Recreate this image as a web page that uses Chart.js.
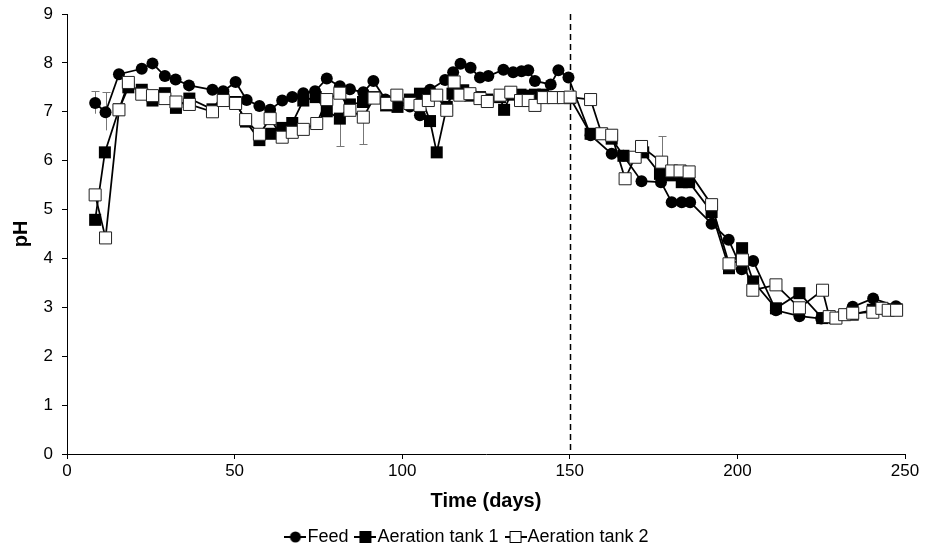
<!DOCTYPE html>
<html>
<head>
<meta charset="utf-8">
<script src="https://cdn.jsdelivr.net/npm/chart.js@4/dist/chart.umd.min.js"></script>
<style>
  body { margin: 0; background: #fff; }
</style>
</head>
<body>
<canvas id="ph-chart" width="925" height="552"></canvas>
<script>
// pH of the feed and of both aeration tanks over the run
const feedDays = [8.4, 11.5, 15.5, 22.3, 25.5, 29.2, 32.4, 36.4, 43.4, 46.6, 50.3, 53.6, 57.4, 60.6, 64.2, 67.2, 70.5, 74, 77.5, 81.4, 84.4, 88.4, 91.4, 95, 98.5, 102.3, 105.3, 108.3, 112.8, 115.2, 117.4, 120.4, 123.2, 125.7, 130.2, 133.1, 135.6, 137.6, 139.6, 144.3, 146.6, 149.6, 156.2, 162.5, 166, 171.4, 177.2, 180.4, 183.4, 185.9, 192.3, 197.4, 201.3, 204.7, 211.5, 218.5, 225, 234.4, 240.5, 247.3];
const feedPH = [7.18, 6.99, 7.77, 7.88, 7.99, 7.73, 7.66, 7.54, 7.45, 7.42, 7.61, 7.24, 7.12, 7.04, 7.23, 7.30, 7.38, 7.42, 7.68, 7.52, 7.46, 7.40, 7.63, 7.25, 7.15, 7.11, 6.93, 7.45, 7.65, 7.81, 7.98, 7.90, 7.70, 7.73, 7.86, 7.81, 7.83, 7.85, 7.63, 7.56, 7.85, 7.70, 6.52, 6.14, 6.10, 5.58, 5.56, 5.15, 5.15, 5.15, 4.71, 4.38, 3.78, 3.95, 2.94, 2.82, 2.77, 3.01, 3.18, 3.02];

const tank1Days = [8.4, 11.3, 15.5, 18.3, 22.3, 25.5, 29.2, 32.5, 36.5, 43.4, 46.6, 50.3, 53.4, 57.4, 60.6, 64.2, 67.2, 70.5, 74.2, 77.5, 81.4, 84.4, 88.3, 91.6, 95.2, 98.6, 102.3, 105.3, 108.3, 110.3, 113.3, 115, 118.2, 120.3, 123.2, 125.4, 129.2, 130.4, 132.4, 135.3, 137.6, 139.6, 142.1, 145.1, 148.1, 150.1, 156.2, 159.5, 162.5, 166, 171.9, 176.9, 180.4, 183.4, 185.6, 192.3, 197.5, 201.4, 204.7, 211.5, 218.5, 225.3, 229, 234.4, 240.4, 247.5];
const tank1PH = [4.79, 6.17, 7.05, 7.50, 7.45, 7.23, 7.38, 7.08, 7.27, 7.05, 7.35, 7.20, 6.80, 6.42, 6.55, 6.67, 6.77, 7.23, 7.30, 7.01, 6.86, 7.15, 7.20, 7.30, 7.13, 7.10, 7.25, 7.37, 6.81, 6.17, 7.10, 7.37, 7.44, 7.33, 7.30, 7.25, 7.30, 7.04, 7.35, 7.35, 7.33, 7.35, 7.35, 7.30, 7.30, 7.28, 6.55, 6.55, 6.45, 6.10, 6.17, 5.73, 5.70, 5.56, 5.56, 4.95, 3.80, 4.21, 3.53, 2.98, 3.29, 2.78, 2.78, 2.85, 2.95, 2.96];

const tank2Days = [8.4, 11.5, 15.5, 18.3, 22.3, 25.5, 29.2, 32.5, 36.5, 43.4, 46.6, 50.3, 53.3, 57.4, 60.6, 64.2, 67.2, 70.5, 74.5, 77.5, 81.4, 84.4, 88.4, 91.6, 95.4, 98.4, 102.3, 105.3, 107.8, 110.3, 113.3, 115.5, 117.2, 120.2, 123.2, 125.4, 129.2, 132.4, 135.3, 137.6, 139.6, 142.1, 145.1, 148.1, 150.1, 156.2, 159.5, 162.5, 166.5, 169.5, 171.4, 177.4, 180.4, 182.9, 185.6, 192.3, 197.5, 201.5, 204.6, 211.5, 218.5, 225.4, 227.4, 229.4, 232, 234.4, 240.4, 243.1, 245, 247.5];
const tank2PH = [5.30, 4.42, 7.04, 7.60, 7.36, 7.33, 7.27, 7.20, 7.15, 7.00, 7.23, 7.17, 6.84, 6.54, 6.86, 6.48, 6.58, 6.64, 6.76, 7.25, 7.38, 7.03, 6.89, 7.28, 7.17, 7.34, 7.17, 7.13, 7.23, 7.34, 7.03, 7.61, 7.34, 7.37, 7.27, 7.21, 7.34, 7.40, 7.23, 7.23, 7.13, 7.29, 7.29, 7.29, 7.30, 7.25, 6.55, 6.52, 5.63, 6.07, 6.29, 5.97, 5.79, 5.79, 5.77, 5.10, 3.89, 3.97, 3.35, 3.46, 2.99, 3.35, 2.81, 2.78, 2.85, 2.88, 2.90, 2.98, 2.94, 2.94];

// standard deviation whiskers (only the visible half of each is drawn)
const errDays = [8.4, 11.5, 81.4, 88.4, 177.4];
const errFrom = [6.96, 6.62, 6.86, 6.89, 5.97];
const errTo = [7.42, 7.40, 6.29, 6.35, 6.50];

const phaseChangeDay = 150;
const xTicks = [0, 50, 100, 150, 200, 250];
const yTicks = [0, 1, 2, 3, 4, 5, 6, 7, 8, 9];

const FONT = '"Liberation Sans", Arial, sans-serif';

function toPoints(days, values) {
  return days.map((d, i) => ({ x: d, y: values[i] }));
}

// little line+marker swatch for the legend
function legendSwatch(kind) {
  const c = document.createElement('canvas');
  c.width = 22;
  c.height = 14;
  const g = c.getContext('2d');
  g.strokeStyle = '#000';
  g.lineWidth = 2;
  g.beginPath();
  g.moveTo(0, 7);
  g.lineTo(22, 7);
  g.stroke();
  if (kind === 'circle') {
    g.fillStyle = '#000';
    g.beginPath();
    g.arc(11, 7, 5.5, 0, Math.PI * 2);
    g.fill();
  } else {
    g.fillStyle = kind === 'filled' ? '#000' : '#fff';
    g.fillRect(5, 1, 12, 12);
    g.lineWidth = 1;
    g.strokeRect(5.5, 1.5, 11, 11);
  }
  return c;
}

const swatches = [legendSwatch('circle'), legendSwatch('filled'), legendSwatch('open')];

const extras = {
  id: 'extras',
  afterLayout(chart) {
    // legend row sits a little right of the canvas centre
    chart.legend.left += 18;
    chart.legend.right += 18;
  },
  beforeDatasetsDraw(chart) {
    const { ctx, scales: { x, y } } = chart;
    ctx.save();
    // phase change marker
    const px = Math.round(x.getPixelForValue(phaseChangeDay)) + 0.5;
    ctx.strokeStyle = '#000';
    ctx.lineWidth = 1.5;
    ctx.setLineDash([6, 4]);
    ctx.beginPath();
    ctx.moveTo(px, y.getPixelForValue(9));
    ctx.lineTo(px, y.getPixelForValue(0));
    ctx.stroke();
    ctx.setLineDash([]);
    // error whiskers
    ctx.strokeStyle = '#777';
    ctx.lineWidth = 1;
    errDays.forEach((d, i) => {
      const ex = Math.round(x.getPixelForValue(d)) + 0.5;
      const y0 = y.getPixelForValue(errFrom[i]);
      const y1 = Math.round(y.getPixelForValue(errTo[i])) + 0.5;
      ctx.beginPath();
      ctx.moveTo(ex, y0);
      ctx.lineTo(ex, y1);
      ctx.moveTo(ex - 4, y1);
      ctx.lineTo(ex + 4, y1);
      ctx.stroke();
    });
    ctx.restore();
  }
};

new Chart(document.getElementById('ph-chart'), {
  type: 'line',
  data: {
    datasets: [
      {
        label: 'Feed',
        data: toPoints(feedDays, feedPH),
        borderColor: '#000',
        borderWidth: 1.75,
        pointStyle: 'circle',
        pointRadius: 6,
        pointBackgroundColor: '#000',
        pointBorderColor: '#000',
        pointBorderWidth: 0,
        order: 3
      },
      {
        label: 'Aeration tank 1',
        data: toPoints(tank1Days, tank1PH),
        borderColor: '#000',
        borderWidth: 1.75,
        pointStyle: 'rect',
        pointRadius: 8.5,
        pointBackgroundColor: '#000',
        pointBorderColor: '#000',
        pointBorderWidth: 0,
        order: 2
      },
      {
        label: 'Aeration tank 2',
        data: toPoints(tank2Days, tank2PH),
        borderColor: '#000',
        borderWidth: 1.75,
        pointStyle: 'rect',
        pointRadius: 8.5,
        pointBackgroundColor: '#fff',
        pointBorderColor: '#222',
        pointBorderWidth: 1,
        order: 1
      }
    ]
  },
  options: {
    responsive: false,
    animation: false,
    events: [],
    layout: { padding: { left: 0, right: 20, top: 14, bottom: -4 } },
    scales: {
      x: {
        type: 'linear',
        min: 0,
        max: 250,
        afterBuildTicks: (scale) => { scale.ticks = xTicks.map(v => ({ value: v })); },
        afterFit: (scale) => { scale.height = 60; },
        border: { display: true, color: '#000', width: 1 },
        grid: { drawOnChartArea: false, drawTicks: true, tickLength: 5, color: '#000' },
        ticks: { color: '#000', font: { family: FONT, size: 17 }, padding: 2, maxRotation: 0 },
        title: { display: true, text: 'Time (days)', color: '#000', font: { family: FONT, size: 20, weight: 'bold' }, padding: { top: 0, bottom: 1 } }
      },
      y: {
        min: 0,
        max: 9,
        afterBuildTicks: (scale) => { scale.ticks = yTicks.map(v => ({ value: v })); },
        afterFit: (scale) => {
          scale.width = 67;
          scale.paddingTop = 0;
          scale.paddingBottom = 0;
        },
        border: { display: true, color: '#000', width: 1 },
        grid: { drawOnChartArea: false, drawTicks: true, tickLength: 5, color: '#000' },
        ticks: { color: '#000', font: { family: FONT, size: 17 }, padding: 9 },
        title: { display: true, text: 'pH', color: '#000', font: { family: FONT, size: 20, weight: 'bold' }, padding: { top: 9, bottom: 0 } }
      }
    },
    plugins: {
      tooltip: { enabled: false },
      legend: {
        position: 'bottom',
        labels: {
          usePointStyle: true,
          pointStyleWidth: 6,
          color: '#000',
          padding: 14,
          font: { family: FONT, size: 18 },
          sort: (a, b) => a.datasetIndex - b.datasetIndex,
          generateLabels: (chart) => {
            const items = Chart.defaults.plugins.legend.labels.generateLabels(chart);
            items.forEach((it) => { it.pointStyle = swatches[it.datasetIndex]; });
            return items;
          }
        }
      }
    }
  },
  plugins: [extras]
});
</script>
</body>
</html>
